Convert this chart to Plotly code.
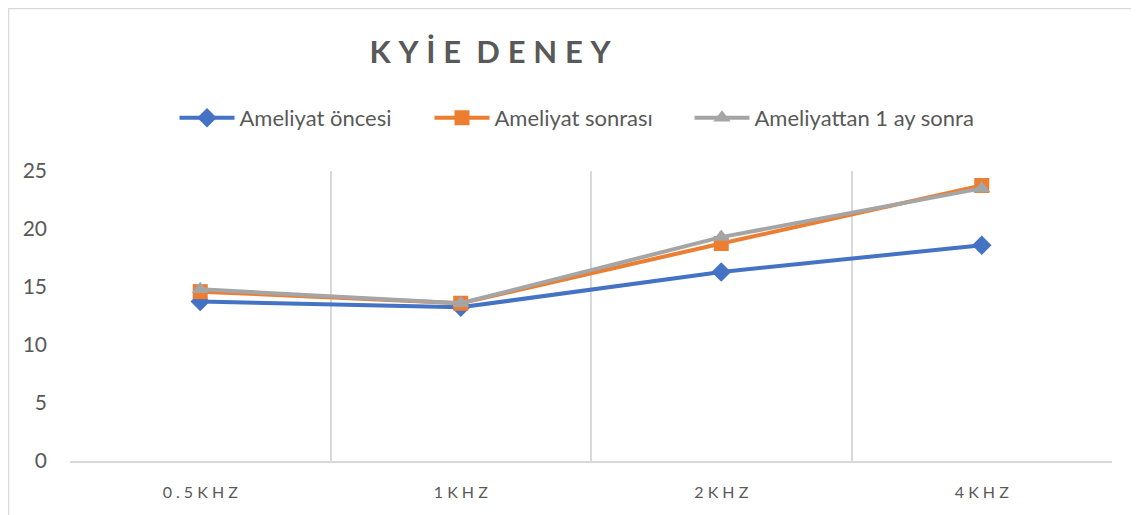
import plotly.graph_objects as go

categories = ["0.5KHZ", "1KHZ", "2KHZ", "4KHZ"]
series_names = ["Ameliyat öncesi", "Ameliyat sonrası", "Ameliyattan 1 ay sonra"]
oncesi = [13.75, 13.25, 16.3, 18.6]
sonrasi = [14.6, 13.6, 18.75, 23.75]
bir_ay = [14.8, 13.6, 19.3, 23.5]
y_ticks = [0, 5, 10, 15, 20, 25]
title_text = "KYİE DENEY"

colors = ["#4472C4", "#ED7D31", "#A5A5A5"]
symbols = ["diamond", "square", "triangle-up"]
legend_widths = [185, 190, None]
grey_text = "#595959"
grid = "#D9D9D9"

x = list(range(len(categories)))
spaced = [" ".join(c) for c in categories]
# letter-spaced title
title_spaced = "\u2005 ".join("\u2005".join(w) for w in title_text.split(" "))

# the page body adds an 8px offset, margins below account for it
L, R, T, B = 62, 35, 163, 62
W, H = 1139, 515
pw, ph = W - L - R, H - T - B

fig = go.Figure()
for name, vals, col, sym, lw in zip(series_names, [oncesi, sonrasi, bir_ay], colors, symbols, legend_widths):
    fig.add_trace(go.Scatter(
        x=x, y=vals, name=name, mode="lines+markers",
        line=dict(color=col, width=4),
        marker=dict(symbol=sym, size=15, color=col),
        legendwidth=lw,
    ))

fig.update_xaxes(
    range=[-0.5, len(categories) - 0.5],
    tickvals=x, ticktext=spaced,
    showgrid=False, zeroline=False,
    showline=True, linecolor=grid, linewidth=1.5,
    ticks="", ticklabelstandoff=16,
    tickfont=dict(family="Lato", size=16, color=grey_text),
    minor=dict(tick0=-0.5, dtick=1, showgrid=True, gridcolor=grid, gridwidth=1.5, ticks=""),
)
fig.update_yaxes(
    range=[0, 25], tickvals=y_ticks,
    showgrid=False, zeroline=False, showline=False,
    ticks="", ticklabelstandoff=22,
    tickfont=dict(family="Lato", size=21, color=grey_text),
)

# outer chart border
fig.add_shape(type="rect", xref="paper", yref="paper",
              x0=(0.5 - L) / pw, x1=(W + 20 - L) / pw,
              y0=-(B + 20) / ph, y1=(ph + T - 0.5) / ph,
              line=dict(color=grid, width=1.5), layer="below")

fig.update_layout(
    width=W, height=H,
    margin=dict(l=L, r=R, t=T, b=B),
    plot_bgcolor="white", paper_bgcolor="white",
    title=dict(text="<b>" + title_spaced + "</b>", x=482 / W, xref="container",
               y=1 - 44 / H, yref="container", xanchor="center", yanchor="middle",
               font=dict(family="Lato", size=31, color=grey_text)),
    legend=dict(orientation="h", x=(569 - L) / pw, xanchor="center",
                y=(ph + T - 110) / ph, yanchor="middle",
                itemwidth=55,
                font=dict(family="Lato", size=22, color=grey_text),
                bgcolor="rgba(0,0,0,0)"),
    showlegend=True,
)

fig.write_html("out.html")
